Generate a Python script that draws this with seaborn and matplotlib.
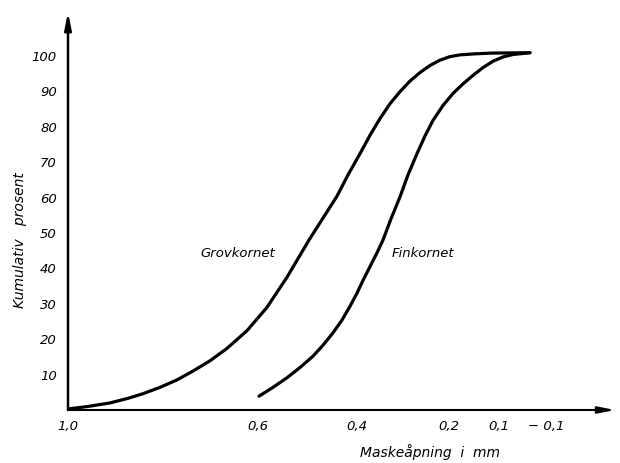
import matplotlib
matplotlib.use("Agg")
import matplotlib.pyplot as plt
import seaborn as sns
import pandas as pd

# x is the position along the (non-linear) sieve axis, y is cumulative percent
grov_x = [0.0, 2.0, 4.2, 6.0, 7.5, 9.2, 10.9, 12.5, 14.2, 15.9, 17.9, 19.9, 21.9,
          23.2, 24.1, 25.5, 26.9, 28.0, 29.2, 30.2, 31.2, 32.2, 33.2, 34.2, 35.2,
          36.2, 37.2, 38.2, 39.2, 40.8, 42.5, 46.2]
grov_y = [0.3, 1.0, 2.0, 3.3, 4.6, 6.4, 8.5, 11.0, 13.9, 17.4, 22.4, 29.0, 37.5,
          43.7, 48.0, 54.2, 60.4, 66.4, 72.4, 77.6, 82.3, 86.5, 89.9, 92.9, 95.3,
          97.3, 98.8, 99.8, 100.3, 100.6, 100.8, 100.9]

fin_x = [19.1, 20.5, 21.9, 23.2, 24.5, 25.5, 26.5, 27.4, 28.2, 28.9, 29.5, 30.2,
         30.9, 31.5, 32.3, 33.2, 34.0, 34.9, 35.7, 36.5, 37.5, 38.5, 39.5, 40.5,
         41.5, 42.5, 43.5, 44.5, 46.2]
fin_y = [3.9, 6.4, 9.1, 12.0, 15.2, 18.3, 21.8, 25.4, 29.3, 33.0, 36.6, 40.5,
         44.4, 48.0, 54.0, 60.2, 66.4, 72.4, 77.4, 81.8, 86.0, 89.4, 92.1, 94.5,
         96.7, 98.5, 99.7, 100.4, 100.9]

tick_pos = [0.0, 19.0, 28.85, 38.1, 43.1, 47.8]
tick_labels = ["1,0", "0,6", "0,4", "0,2", "0,1", "\u2212 0,1"]
y_ticks = [10, 20, 30, 40, 50, 60, 70, 80, 90, 100]

df = pd.concat([
    pd.DataFrame({"x": grov_x, "y": grov_y, "serie": "Grovkornet"}),
    pd.DataFrame({"x": fin_x, "y": fin_y, "serie": "Finkornet"}),
])

sns.set_style("white")
plt.rcParams['font.family'] = ['DejaVu Sans']
plt.rcParams['text.color'] = 'black'
plt.rcParams['xtick.color'] = 'black'
plt.rcParams['ytick.color'] = 'black'

fig = plt.figure(figsize=(6.2, 4.63), dpi=100)
ax = fig.add_axes([68 / 620, 53 / 463, 547 / 620, 398 / 463])

sns.lineplot(data=df, x="x", y="y", hue="serie", units="serie", estimator=None,
             sort=False, palette=["black", "black"], linewidth=2.3,
             legend=False, ax=ax, solid_joinstyle="round", solid_capstyle="round")

ax.set_xlim(0, 54.7)
ax.set_ylim(0, 112.4)
for s in ax.spines.values():
    s.set_visible(False)

# axes drawn as arrows
ax.annotate("", xy=(1, 0), xytext=(0, 0), xycoords="axes fraction",
            arrowprops=dict(arrowstyle="-|>,head_length=1.0,head_width=0.2",
                            color="black", lw=1.5, shrinkA=0, shrinkB=0))
ax.annotate("", xy=(0, 1), xytext=(0, 0), xycoords="axes fraction",
            arrowprops=dict(arrowstyle="-|>,head_length=1.0,head_width=0.2",
                            color="black", lw=1.8, shrinkA=0, shrinkB=0))

ax.set_xticks(tick_pos)
ax.set_xticklabels(tick_labels, fontstyle="italic", fontsize=9.5)
ax.set_yticks(y_ticks)
ax.set_yticklabels([str(v) for v in y_ticks], fontstyle="italic", fontsize=9.5)
ax.tick_params(axis="x", direction="in", length=7, width=1.2, pad=7)
ax.tick_params(axis="y", direction="in", length=7, width=1.2, pad=8)
ax.set_xlabel("")
ax.set_ylabel("")

fig.text(430 / 620, 1 - 452 / 463, "Maskeåpning  i  mm", ha="center", va="center",
         fontstyle="italic", fontsize=10)
fig.text(20 / 620, 1 - 240 / 463, "Kumulativ   prosent", ha="center", va="center",
         rotation=90, fontstyle="italic", fontsize=10)

ax.text(13.2, 44.3, "Grovkornet", fontstyle="italic", fontsize=9.5, va="center")
ax.text(32.4, 44.3, "Finkornet", fontstyle="italic", fontsize=9.5, va="center")

fig.savefig("out.png", dpi=100)
